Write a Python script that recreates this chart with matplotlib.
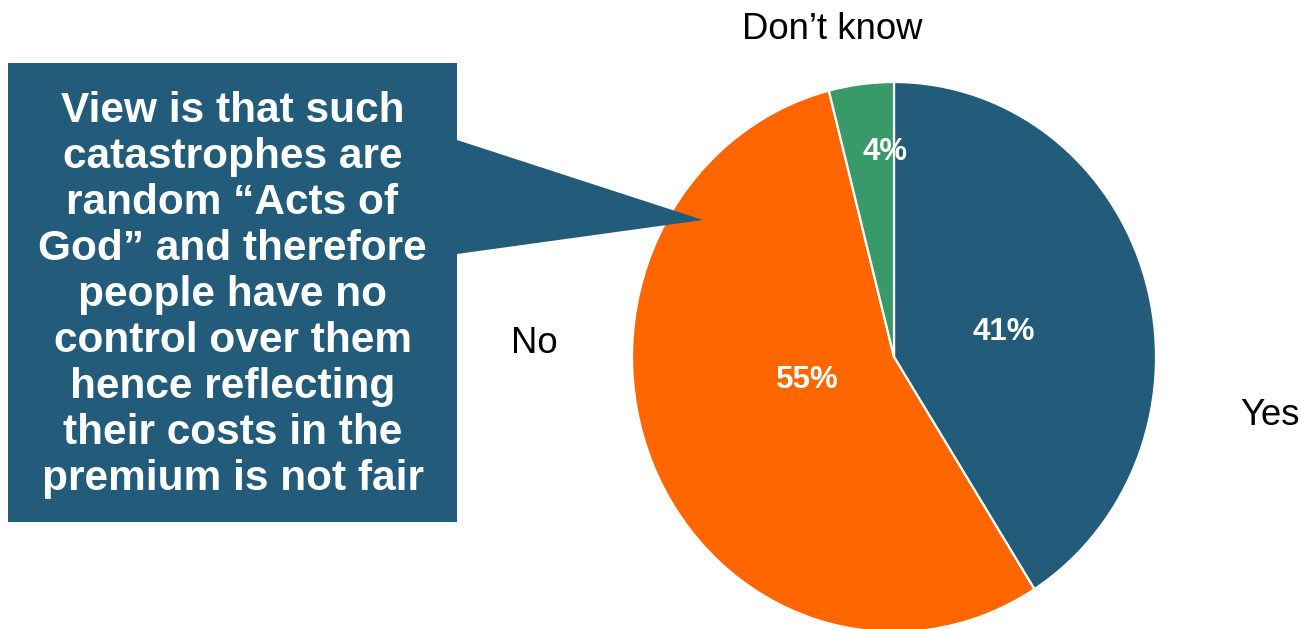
import numpy as np
import matplotlib
matplotlib.use("Agg")
import matplotlib.pyplot as plt
from matplotlib.patches import Polygon

plt.rcParams['font.family'] = ['Liberation Sans', 'DejaVu Sans']

# survey answers
answers = ['Yes', 'No', 'Don\u2019t know']
shares = [41, 55, 4]
colours = ['#235B7A', '#FF6600', '#379A68']

note_lines = ['View is that such',
              'catastrophes are',
              'random \u201cActs of',
              'God\u201d and therefore',
              'people have no',
              'control over them',
              'hence reflecting',
              'their costs in the',
              'premium is not fair']

W, H = 1301, 629
fig = plt.figure(figsize=(W / 100, H / 100), dpi=100)

# pie is slightly taller than wide, centre at (894, 357) px
cx, cy, rx, ry = 894, 357, 262, 275
ax = fig.add_axes([(cx - rx) / W, (H - cy - ry) / H, 2 * rx / W, 2 * ry / H])
wedges, _ = ax.pie(shares, colors=colours, startangle=90, counterclock=False,
                   wedgeprops=dict(edgecolor='white', linewidth=1.6))
ax.set_aspect('auto')
ax.set_xlim(-1, 1)
ax.set_ylim(-1, 1)
ax.axis('off')

# percentage labels inside the slices
pct_pos = [(0.42, 0.09), (-0.33, -0.085), (-0.035, 0.745)]
for v, (px, py) in zip(shares, pct_pos):
    ax.text(px, py, f'{v}%', color='white', fontsize=22.5, fontweight='bold',
            ha='center', va='center')

# overlay in pixel coordinates for the callout and category names
ov = fig.add_axes([0, 0, 1, 1], zorder=5)
ov.set_xlim(0, W)
ov.set_ylim(H, 0)
ov.axis('off')
ov.patch.set_alpha(0)

callout = Polygon([(8, 63), (457, 63), (457, 140), (703, 220), (457, 254),
                   (457, 522), (8, 522)], closed=True,
                  facecolor='#235B7A', edgecolor='none')
ov.add_patch(callout)

base0, step = 122, 46
for i, line in enumerate(note_lines):
    ov.text(232.5, base0 + i * step, line, color='white', fontsize=30.5,
            fontweight='bold', ha='center', va='baseline')

label_pos = [(1240, 425), (511, 353), (742, 39)]
for name, (lx, ly) in zip(answers, label_pos):
    ov.text(lx, ly, name, fontsize=26.3, color='black', ha='left', va='baseline')

fig.savefig('out.png', dpi=100)
